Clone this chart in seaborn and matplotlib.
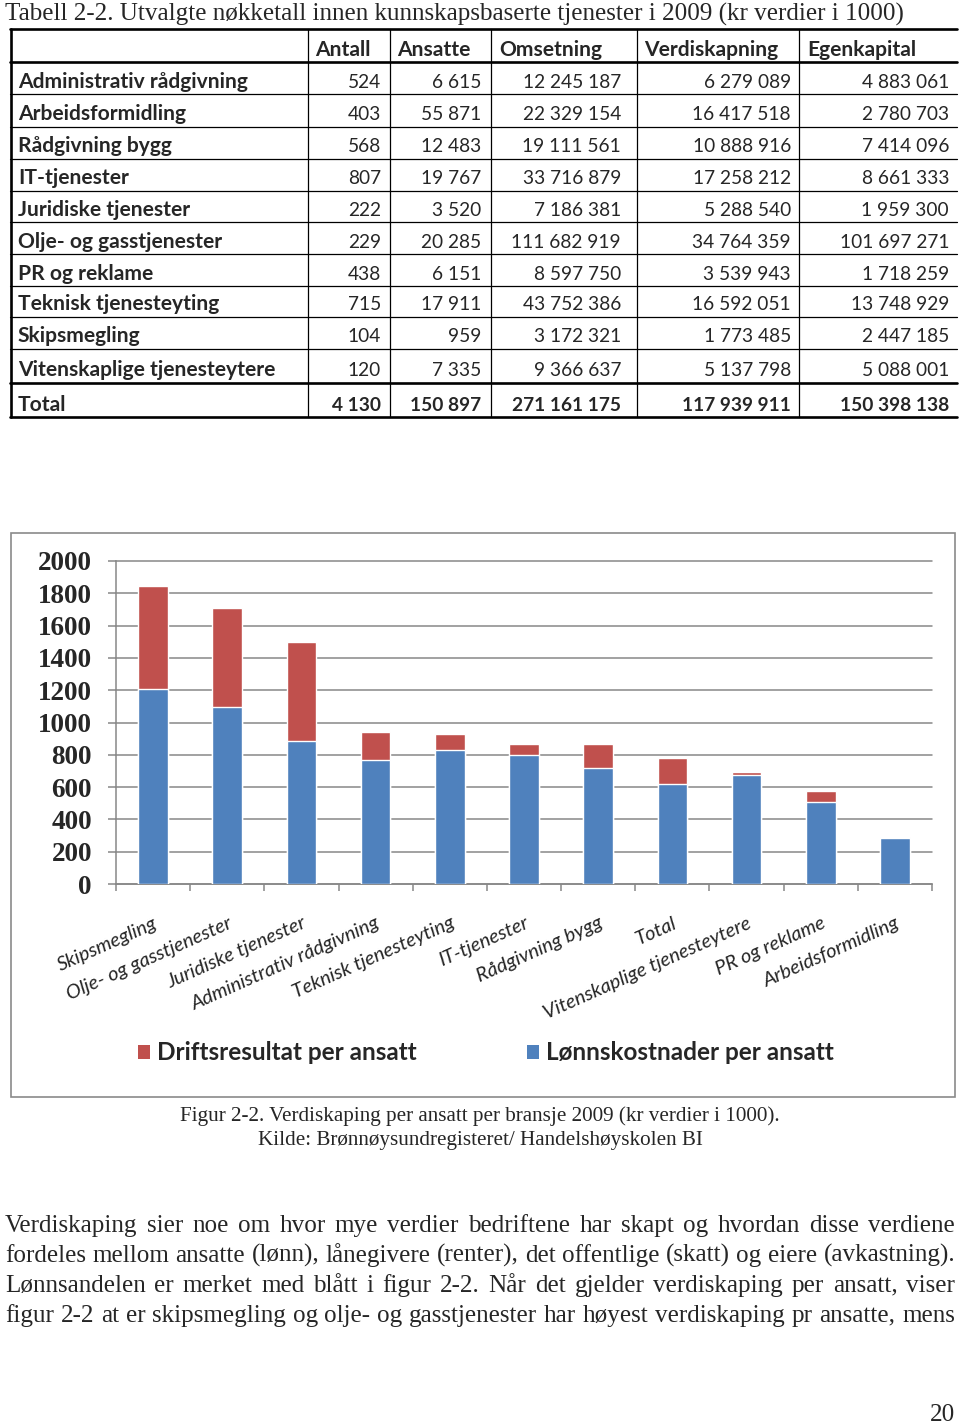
import matplotlib
matplotlib.use("Agg")
import matplotlib.pyplot as plt
import seaborn as sns
import pandas as pd
import numpy as np
from matplotlib.lines import Line2D
from matplotlib.patches import Rectangle, Patch

# ---------------- data ----------------
table_title = "Tabell 2-2. Utvalgte nøkketall innen kunnskapsbaserte tjenester i 2009 (kr verdier i 1000)"
col_headers = ["Antall", "Ansatte", "Omsetning", "Verdiskapning", "Egenkapital"]
row_labels = ["Administrativ rådgivning", "Arbeidsformidling", "Rådgivning bygg", "IT-tjenester",
              "Juridiske tjenester", "Olje- og gasstjenester", "PR og reklame", "Teknisk tjenesteyting",
              "Skipsmegling", "Vitenskaplige tjenesteytere", "Total"]
antall = ["524", "403", "568", "807", "222", "229", "438", "715", "104", "120", "4 130"]
ansatte = ["6 615", "55 871", "12 483", "19 767", "3 520", "20 285", "6 151", "17 911", "959", "7 335", "150 897"]
omsetning = ["12 245 187", "22 329 154", "19 111 561", "33 716 879", "7 186 381", "111 682 919",
             "8 597 750", "43 752 386", "3 172 321", "9 366 637", "271 161 175"]
verdiskapning = ["6 279 089", "16 417 518", "10 888 916", "17 258 212", "5 288 540", "34 764 359",
                 "3 539 943", "16 592 051", "1 773 485", "5 137 798", "117 939 911"]
egenkapital = ["4 883 061", "2 780 703", "7 414 096", "8 661 333", "1 959 300", "101 697 271",
               "1 718 259", "13 748 929", "2 447 185", "5 088 001", "150 398 138"]

categories = ["Skipsmegling", "Olje- og gasstjenester", "Juridiske tjenester", "Administrativ rådgivning",
              "Teknisk tjenesteyting", "IT-tjenester", "Rådgivning bygg", "Total",
              "Vitenskaplige tjenesteytere", "PR og reklame", "Arbeidsformidling"]
lonnskostnader = [1206, 1093, 887, 769, 831, 798, 720, 621, 676, 507, 282]
driftsresultat = [641, 618, 612, 175, 95, 68, 146, 158, 17, 68, 11]
series_names = ["Driftsresultat per ansatt", "Lønnskostnader per ansatt"]
yticks = list(range(0, 2001, 200))

caption1 = "Figur 2-2. Verdiskaping per ansatt per bransje 2009 (kr verdier i 1000)."
caption2 = "Kilde: Brønnøysundregisteret/ Handelshøyskolen BI"
body_lines = [
    "Verdiskaping sier noe om hvor mye verdier bedriftene har skapt og hvordan disse verdiene",
    "fordeles mellom ansatte (lønn), lånegivere (renter), det offentlige (skatt) og eiere (avkastning).",
    "Lønnsandelen er merket med blått i figur 2-2. Når det gjelder verdiskaping per ansatt, viser",
    "figur 2-2 at er skipsmegling og olje- og gasstjenester har høyest verdiskaping pr ansatte, mens",
]
page_number = "20"

# ---------------- style ----------------
sns.set_theme(style="white")
plt.rcParams['font.family'] = ['Lato', 'DejaVu Sans']
SERIF = ['Liberation Serif', 'DejaVu Serif']
SANS = ['Lato', 'DejaVu Sans']
BLUE = "#4F81BD"
RED = "#C0504D"
GRID = "#878787"

W, H = 960, 1424
fig = plt.figure(figsize=(W / 100, H / 100), dpi=100)
fig.patch.set_facecolor("white")
renderer = fig.canvas.get_renderer()


def fx(x):
    return x / W


def fy(y):
    return 1 - y / H


def measure(s, **kw):
    t = fig.text(0, 0, s, **kw)
    w = t.get_window_extent(renderer).width
    t.remove()
    return w


def fit_size(s, target, **kw):
    return 10 * target / measure(s, fontsize=10, **kw)


def justify(line, x0, x1, ybase, size, **kw):
    words = line.split(" ")
    widths = [measure(w, fontsize=size, **kw) for w in words]
    gap = (x1 - x0 - sum(widths)) / (len(words) - 1)
    x = x0
    for w, wd in zip(words, widths):
        fig.text(fx(x), fy(ybase), w, fontsize=size, ha="left", va="baseline", **kw)
        x += wd + gap


# ---------------- title ----------------
ts = fit_size(table_title, 900, family=SERIF)
fig.text(fx(5), fy(21), table_title, fontsize=ts, family=SERIF, ha="left", va="baseline")

# ---------------- table ----------------
row_y = [29, 62, 94, 127, 159, 191, 222, 254, 286, 317, 349, 383, 417]
thick = {0, 1, 11, 12}
for i, y in enumerate(row_y):
    fig.add_artist(Line2D([fx(10), fx(957)], [fy(y), fy(y)], color="black",
                          lw=1.9 if i in thick else 0.9, transform=fig.transFigure))
fig.add_artist(Line2D([fx(11), fx(11)], [fy(29), fy(417)], color="black", lw=1.9, transform=fig.transFigure))
for x in [308, 390, 491, 637, 799]:
    fig.add_artist(Line2D([fx(x), fx(x)], [fy(29), fy(417)], color="black", lw=0.9, transform=fig.transFigure))

tsz = fit_size("Administrativ rådgivning", 230, family=SANS, fontweight="bold")
nsz = fit_size("111 682 919", 110, family=SANS)
head_x = [315, 397, 499, 644, 807]
num_right = [381, 481, 621, 791, 949]
for hx, h in zip(head_x, col_headers):
    fig.text(fx(hx), fy(55.5), h, fontsize=tsz, fontweight="bold", family=SANS, ha="left", va="baseline")
columns = [antall, ansatte, omsetning, verdiskapning, egenkapital]
for r, lab in enumerate(row_labels):
    base = row_y[r + 2] - 6.5
    is_total = lab == "Total"
    fig.text(fx(18), fy(base), lab, fontsize=tsz, fontweight="bold", family=SANS, ha="left", va="baseline")
    for c, col in enumerate(columns):
        fig.text(fx(num_right[c]), fy(base), col[r], fontsize=nsz,
                 fontweight="bold" if is_total else "normal", family=SANS, ha="right", va="baseline")

# ---------------- chart frame ----------------
fig.add_artist(Rectangle((fx(11), fy(1097)), (955 - 11) / W, (1097 - 533) / H, fill=False,
                         edgecolor="#8a8a8a", lw=1.2, transform=fig.transFigure))

# ---------------- chart ----------------
df = pd.DataFrame({"Bransje": categories, "Lønn": lonnskostnader, "Drift": driftsresultat})
df["Sum"] = df["Lønn"] + df["Drift"]

ax = fig.add_axes([fx(116), fy(884), (932 - 116) / W, (884 - 561) / H])
sns.barplot(data=df, x="Bransje", y="Sum", color=RED, width=0.4, saturation=1,
            errorbar=None, ax=ax, zorder=3)
sns.barplot(data=df, x="Bransje", y="Lønn", color=BLUE, width=0.4, saturation=1,
            errorbar=None, ax=ax, zorder=3)
ax.set_xlim(-0.5, len(categories) - 0.5)
ax.set_ylim(0, 2000)
ax.set_xlabel("")
ax.set_ylabel("")
ax.set_facecolor("white")
for s in ["top", "right"]:
    ax.spines[s].set_visible(False)
for s in ["left", "bottom"]:
    ax.spines[s].set_color(GRID)
    ax.spines[s].set_linewidth(1.1)
ax.set_yticks(yticks)
ax.yaxis.grid(True, color=GRID, lw=1.1, zorder=0)
ax.set_axisbelow(True)
for gl in ax.get_ygridlines():
    gl.set_clip_on(False)
ysz = fit_size("2000", 54, family=SERIF, fontweight="bold")
ax.set_yticklabels([str(v) for v in yticks], fontsize=ysz, fontweight="bold", family=SERIF)
ax.tick_params(axis="y", length=5.8, width=1.1, color=GRID, pad=11.5, direction="out", left=True)

ax.set_xticks(np.arange(-0.5, len(categories), 1), minor=True)
ax.set_xticks(range(len(categories)))
xsz = fit_size("Vitenskaplige tjenesteytere", 224, family=SANS, fontstyle="italic")
ax.set_xticklabels(categories, rotation=24, ha="right", va="top", rotation_mode="anchor",
                   fontsize=xsz, fontstyle="italic", family=SANS)
ax.tick_params(axis="x", which="major", length=0, pad=22)
ax.tick_params(axis="x", which="minor", length=5, width=1.1, color=GRID, direction="out", bottom=True)

lsz = fit_size(series_names[0], 260, family=SANS, fontweight="bold")
handles = [Patch(facecolor=RED, edgecolor="none", label=series_names[0]),
           Patch(facecolor=BLUE, edgecolor="none", label=series_names[1])]
text_w = measure(series_names[0], fontsize=lsz, family=SANS, fontweight="bold")
em = lsz * 100 / 72
ax.legend(handles=handles, loc="center left", bbox_to_anchor=(fx(138), fy(1053)),
          bbox_transform=fig.transFigure, ncol=2, frameon=False, borderpad=0, borderaxespad=0,
          handlelength=12 / em, handleheight=12 / em, handletextpad=7 / em,
          columnspacing=(527 - 157 - text_w) / em,
          prop={"family": SANS, "weight": "bold", "size": lsz})

# ---------------- captions & body ----------------
c1 = fit_size(caption1, 599, family=SERIF)
fig.text(0.5, fy(1121), caption1, fontsize=c1, family=SERIF, ha="center", va="baseline")
fig.text(0.5, fy(1145), caption2, fontsize=c1, family=SERIF, ha="center", va="baseline")

bsz = fit_size(body_lines[1], 950, family=SERIF)
for i, line in enumerate(body_lines):
    justify(line, 5, 955, 1232 + 30 * i, bsz, family=SERIF)

psz = bsz
fig.text(fx(955), fy(1421), page_number, fontsize=psz, family=SERIF, ha="right", va="baseline")

fig.savefig("out.png", dpi=100, facecolor="white")
